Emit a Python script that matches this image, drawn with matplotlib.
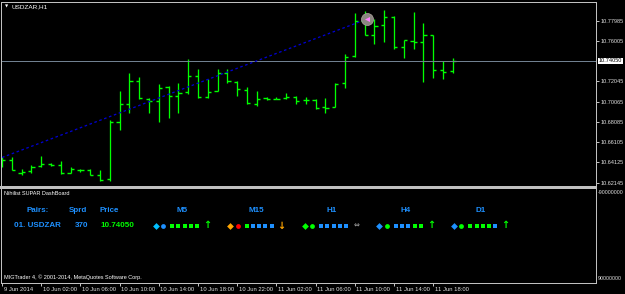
import matplotlib
matplotlib.use("Agg")
import matplotlib.pyplot as plt
import matplotlib.transforms as mtransforms

W, H, DPI = 625, 294, 100

# ---------------- data ----------------
symbol_title = "USDZAR,H1"
opens = [10.64365, 10.64365, 10.63064, 10.63289, 10.63778, 10.63974, 10.63847, 10.63123, 10.63387, 10.63417,
         10.62869, 10.62478, 10.68051, 10.69811, 10.72118, 10.70300, 10.70133, 10.71473, 10.70652, 10.70984,
         10.72549, 10.70554, 10.71140, 10.72871, 10.71962, 10.71209, 10.69811, 10.70397, 10.70358, 10.70397,
         10.70495, 10.70231, 10.70231, 10.69517, 10.69576, 10.71864, 10.74504, 10.77985, 10.76616, 10.77565,
         10.78347, 10.75443, 10.75971, 10.75873, 10.76557, 10.73165, 10.73067]
highs = [10.64629, 10.64629, 10.63485, 10.63876, 10.64785, 10.64042, 10.64267, 10.63651, 10.63514, 10.63485,
         10.63387, 10.68276, 10.71111, 10.72842, 10.72509, 10.70397, 10.71766, 10.71629, 10.71864, 10.74211,
         10.73233, 10.72255, 10.73233, 10.73262, 10.72118, 10.71473, 10.71111, 10.70525, 10.70525, 10.70945,
         10.70622, 10.70525, 10.70300, 10.70397, 10.71864, 10.74700, 10.78709, 10.78933, 10.78151, 10.79031,
         10.78445, 10.76098, 10.78865, 10.77731, 10.76616, 10.74015, 10.74308]
lows = [10.63651, 10.63387, 10.62922, 10.63123, 10.63710, 10.63778, 10.63020, 10.63064, 10.63221, 10.62869,
        10.62311, 10.62341, 10.67298, 10.68990, 10.70329, 10.68931, 10.68109, 10.68442, 10.68990, 10.70789,
        10.70456, 10.70456, 10.71082, 10.71864, 10.70652, 10.69840, 10.69674, 10.70261, 10.70300, 10.70300,
        10.69840, 10.69840, 10.69351, 10.68990, 10.69517, 10.71375, 10.74406, 10.76587, 10.75677, 10.75873,
        10.75247, 10.74367, 10.75247, 10.71991, 10.72412, 10.72314, 10.72901]
closes = [10.64365, 10.63387, 10.63221, 10.63710, 10.63945, 10.63847, 10.63049, 10.63485, 10.63358, 10.62927,
          10.62380, 10.68051, 10.69811, 10.72118, 10.70456, 10.70163, 10.71434, 10.70652, 10.70886, 10.72549,
          10.70554, 10.71062, 10.72901, 10.72089, 10.71277, 10.69938, 10.70300, 10.70329, 10.70358, 10.70554,
          10.70163, 10.70231, 10.69420, 10.69478, 10.71825, 10.74465, 10.77985, 10.76616, 10.77437, 10.78347,
          10.75443, 10.76068, 10.75873, 10.76557, 10.73194, 10.72940, 10.74050]
current_price = 10.74050
price_ticks = [10.77985, 10.76005, 10.72045, 10.70065, 10.68085, 10.66105, 10.64125, 10.62145]
trend_x = [0.0, 36.8]
trend_y = [10.64609, 10.77985]
arrow_obj_x = 37.2
arrow_obj_y = 10.78122
time_tick_bars = [0, 4, 8, 12, 16, 20, 24, 28, 32, 36, 40, 44]
time_tick_labels = ["9 Jun 2014", "10 Jun 02:00", "10 Jun 06:00", "10 Jun 10:00", "10 Jun 14:00",
                    "10 Jun 18:00", "10 Jun 22:00", "11 Jun 02:00", "11 Jun 06:00", "11 Jun 10:00",
                    "11 Jun 14:00", "11 Jun 18:00"]
indicator_top_label = "-90000000"
indicator_bottom_label = "90000000"

panel_title = "Nihilist SUPAR DashBoard"
header_labels = ["Pairs:", "Sprd", "Price"]
row_pair = "01. USDZAR"
row_spread = "370"
row_price = "10.74050"
timeframes = ["M5", "M15", "H1", "H4", "D1"]
diamond_colors = ["#00bfff", "#ffa500", "#00ff00", "#1e90ff", "#1e90ff"]
circle_colors = ["#1e90ff", "#ff0000", "#00ff00", "#00ff00", "#00ff00"]
G, B = "#00ff00", "#1e90ff"
square_colors = [[G, G, G, G, G],
                 [G, B, B, B, B],
                 [B, B, B, B, B],
                 [B, B, B, G, G],
                 [G, G, G, G, B]]
trend_arrows = ["\u2191", "\u2193", "\u21d4", "\u2191", "\u2191"]
trend_arrow_colors = ["#00ff00", "#ffa500", "#9a9a9a", "#00ff00", "#00ff00"]
footer = "MIGTrader 4, \u00a9 2001-2014, MetaQuotes Software Corp."

# ---------------- layout ----------------
BAR_PX = 9.8
BAR0_PX = 2.0
LEFT_PX, RIGHT_PX = 1.0, 596.0
TOP_PX, SEP_PX, BOT_PX = 2.0, 187.0, 283.0
px_per_price = 162.0 / 0.1584
y_top = 10.77985 + (20.7 - TOP_PX) / px_per_price
y_bot = 10.77985 - (SEP_PX - 20.7) / px_per_price
xl = ((LEFT_PX - BAR0_PX) / BAR_PX, (RIGHT_PX - BAR0_PX) / BAR_PX)

BG = "black"
FRAME = "#c0c0c0"
BARC = "#00ff00"
TXT = "#e0e0e0"
PX = 72.0 / DPI  # one pixel in points

plt.rcParams["font.family"] = ["Liberation Sans", "DejaVu Sans"]

fig = plt.figure(figsize=(W / DPI, H / DPI), dpi=DPI, facecolor=BG)

# main chart axes
ax = fig.add_axes([LEFT_PX / W, (H - SEP_PX) / H, (RIGHT_PX - LEFT_PX) / W, (SEP_PX - TOP_PX) / H])
ax.set_facecolor(BG)
ax.set_xlim(*xl)
ax.set_ylim(y_bot, y_top)
for s in ax.spines.values():
    s.set_color(FRAME)
    s.set_linewidth(PX)
ax.spines["bottom"].set_linewidth(2 * PX)

idx = list(range(len(opens)))
half = 0.33
ax.vlines(idx, lows, highs, color=BARC, lw=PX * 1.3)
ax.hlines(opens, [i - half for i in idx], idx, color=BARC, lw=PX * 1.4)
ax.hlines(closes, idx, [i + half for i in idx], color=BARC, lw=PX * 1.4)

ax.axhline(current_price, color="#708090", lw=PX)
ax.plot(trend_x, trend_y, color="#0000d0", lw=PX * 1.3, linestyle=(0, (2, 2)))
ax.scatter([arrow_obj_x], [arrow_obj_y], s=(12 * PX) ** 2, c="#8a8580", edgecolors="#b0a8a0",
           linewidths=0.5, zorder=5)
ax.scatter([arrow_obj_x], [arrow_obj_y], s=(5 * PX) ** 2, c="#ff80ff", marker="<", linewidths=0, zorder=6)

ax.set_xticks([])
ax.yaxis.tick_right()
ax.set_yticks(price_ticks)
ax.set_yticklabels([f"{v:.5f}" for v in price_ticks])
ax.tick_params(axis="y", direction="out", length=3 * PX, width=PX, color=FRAME,
               labelsize=4.0, labelcolor=TXT, pad=1)
ax.text(1.0 + 2.5 / (RIGHT_PX - LEFT_PX), current_price, f"{current_price:.5f}",
        transform=mtransforms.blended_transform_factory(ax.transAxes, ax.transData),
        ha="left", va="center", fontsize=4.0, color="black",
        bbox=dict(fc="white", ec="none", pad=0.5), clip_on=False)

# indicator panel axes
ax2 = fig.add_axes([LEFT_PX / W, (H - BOT_PX) / H, (RIGHT_PX - LEFT_PX) / W, (BOT_PX - SEP_PX - 1) / H])
ax2.set_facecolor(BG)
ax2.set_xlim(*xl)
ax2.set_ylim(0, 1)
for s in ax2.spines.values():
    s.set_color(FRAME)
    s.set_linewidth(PX)
ax2.spines["top"].set_linewidth(2 * PX)
ax2.set_yticks([])
ax2.set_xticks(time_tick_bars)
ax2.set_xticklabels(time_tick_labels)
ax2.tick_params(axis="x", direction="out", length=3 * PX, width=PX, color=FRAME,
                labelsize=4.2, labelcolor=TXT, pad=1)
off = mtransforms.ScaledTranslation(1.5 / DPI, 0, fig.dpi_scale_trans)
for lab in ax2.get_xticklabels():
    lab.set_horizontalalignment("left")
    lab.set_transform(lab.get_transform() + off)

# overlay in pixel coordinates for text
ov = fig.add_axes([0, 0, 1, 1], facecolor="none")
ov.set_xlim(0, W)
ov.set_ylim(H, 0)
ov.axis("off")

ov.text(4.5, 6.5, "\u25bc", fontsize=3, color="white", ha="left", va="center", family="DejaVu Sans")
ov.text(11, 6.5, symbol_title, fontsize=4.6, color="white", ha="left", va="center")
ov.text(598, 193, indicator_top_label, fontsize=3.8, color=TXT, ha="left", va="center")
ov.text(598, 278, indicator_bottom_label, fontsize=3.8, color=TXT, ha="left", va="center")
ov.text(4, 193.5, panel_title, fontsize=4.0, color="white", ha="left", va="center")
ov.text(4, 277.5, footer, fontsize=4.0, color="white", ha="left", va="center")

HB = dict(fontsize=5.8, fontweight="bold", va="center")
header_x = [26.5, 69, 100]
for hx, lab in zip(header_x, header_labels):
    ov.text(hx, 210.5, lab, color="#1e90ff", ha="left", **HB)
ov.text(14, 225.5, row_pair, color="#1e90ff", ha="left", **HB)
ov.text(75, 225.5, row_spread, color="#1e90ff", ha="left", **HB)
ov.text(100, 225.5, row_price, color="#00ff00", ha="left", **HB)

tf_center0, tf_step = 182.0, 74.6
row_y = 225.5
for k, tf in enumerate(timeframes):
    cx = tf_center0 + k * tf_step
    ov.text(cx, 210.5, tf, color="#1e90ff", ha="center", **HB)
    d0 = cx - 26.5
    ov.scatter([d0], [row_y], marker="D", s=(3.8 * PX) ** 2 * 1.6, c=diamond_colors[k], linewidths=0)
    ov.scatter([d0 + 7.5], [row_y], marker="o", s=(4.8 * PX) ** 2, c=circle_colors[k], linewidths=0)
    for j, col in enumerate(square_colors[k]):
        ov.scatter([d0 + 16.5 + 6.25 * j], [row_y], marker="s", s=(5 * PX) ** 2, c=col, linewidths=0)
    ov.text(d0 + 51.5, row_y, trend_arrows[k], color=trend_arrow_colors[k], fontsize=7 if k != 2 else 5,
            fontweight="bold", ha="center", va="center", family="DejaVu Sans")

fig.savefig("out.png", dpi=DPI, facecolor=BG)
